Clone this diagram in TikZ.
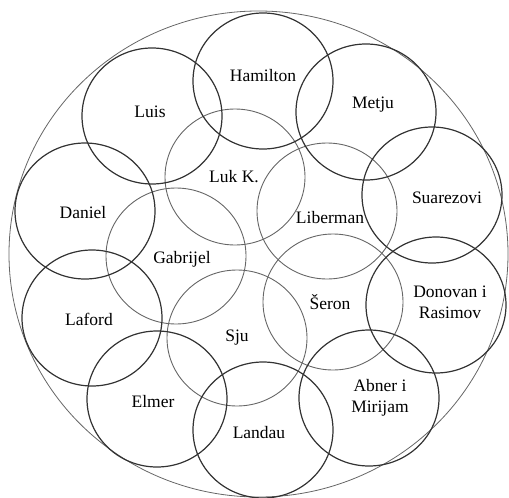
\documentclass[tikz,border=0pt]{standalone}
\usepackage{fontspec}
\setmainfont{Liberation Serif}
\begin{document}
\begin{tikzpicture}[
        x=1pt, y=-1pt,
        outer/.style={draw=black!80, line width=1.2pt},
        inner/.style={draw=black!60, line width=0.9pt},
        frame/.style={draw=black!60, line width=0.8pt},
        person/.style={font=\fontsize{17.5}{21}\selectfont, text=black, align=center, inner sep=0pt}
    ]
        \useasboundingbox (0,0) rectangle (509,498);

        % Surrounding circle
        \draw[frame] (258.5,254) ellipse [x radius=249.5, y radius=243];

        % Inner circles
        \draw[inner] (235,177) ellipse [x radius=70, y radius=68];
        \draw[inner] (327,211) ellipse [x radius=70, y radius=68];
        \draw[inner] (333,302) ellipse [x radius=70, y radius=68];
        \draw[inner] (237,338) ellipse [x radius=70, y radius=68];
        \draw[inner] (176,256) ellipse [x radius=70, y radius=68];

        % Outer circles
        \draw[outer] (263,81) ellipse [x radius=70, y radius=68];
        \draw[outer] (366,112) ellipse [x radius=70, y radius=68];
        \draw[outer] (432,195) ellipse [x radius=70, y radius=68];
        \draw[outer] (436,305) ellipse [x radius=70, y radius=68];
        \draw[outer] (369,398) ellipse [x radius=70, y radius=68];
        \draw[outer] (263,430) ellipse [x radius=70, y radius=68];
        \draw[outer] (157,399) ellipse [x radius=70, y radius=68];
        \draw[outer] (92,318) ellipse [x radius=70, y radius=68];
        \draw[outer] (85,211) ellipse [x radius=70, y radius=68];
        \draw[outer] (152,116) ellipse [x radius=70, y radius=68];

        % Names
        \node[person] (hamilton) at (263,76) {Hamilton};
        \node[person] (metju) at (373,105) {Metju};
        \node[person] (suarezovi) at (447,198) {Suarezovi};
        \node[person] (donovan) at (450,302) {Donovan i\\Rasimov};
        \node[person] (abner) at (380,398) {Abner i\\Mirijam};
        \node[person] (landau) at (259,433) {Landau};
        \node[person] (elmer) at (153,402) {Elmer};
        \node[person] (laford) at (89,319) {Laford};
        \node[person] (daniel) at (83,213) {Daniel};
        \node[person] (luis) at (150,112) {Luis};
        \node[person] (luk) at (234,177) {Luk K.};
        \node[person] (liberman) at (330,218) {Liberman};
        \node[person] (seron) at (330,302) {Šeron};
        \node[person] (sju) at (237,338) {Sju};
        \node[person] (gabrijel) at (182,259) {Gabrijel};
    \end{tikzpicture}
\end{document}
